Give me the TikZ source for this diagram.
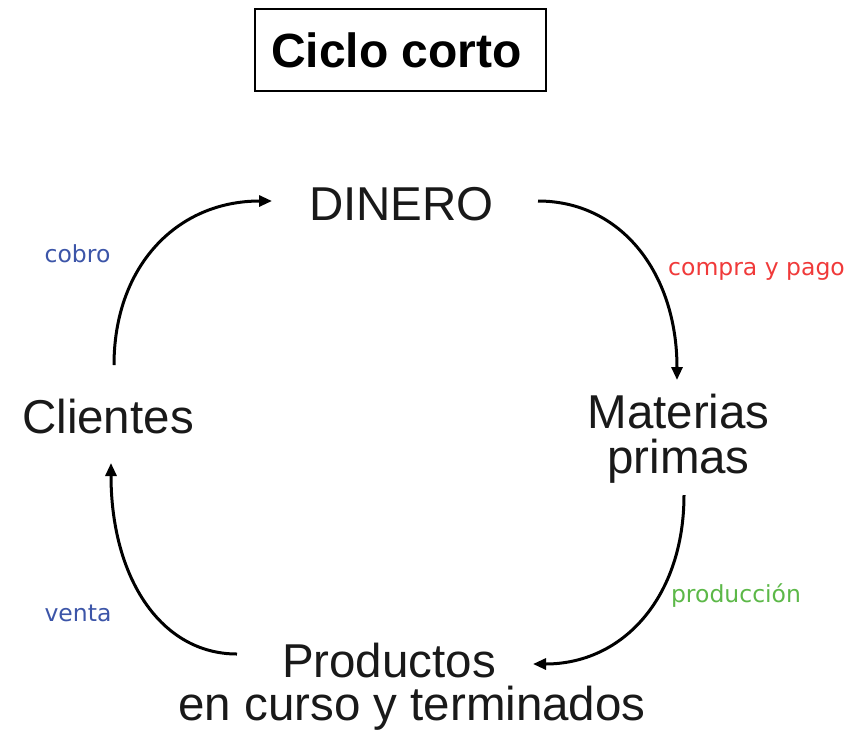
\documentclass[tikz,border=0pt]{standalone}
\usepackage{fontspec}
\setmainfont{Liberation Sans}
\newfontfamily\lblfont{DejaVu Sans}
\usetikzlibrary{arrows.meta}
\definecolor{lblblue}{RGB}{60,85,168}
\definecolor{lblred}{RGB}{240,58,58}
\definecolor{lblgreen}{RGB}{92,184,72}
\tikzset{
  bigtext/.style={inner sep=0pt, outer sep=0pt, text=black!90, font=\fontsize{47.5}{45}\selectfont, align=center},
  lbl/.style={inner sep=0pt, outer sep=0pt, font=\lblfont\fontsize{23.5}{26}\selectfont, anchor=base},
  flow/.style={line width=3pt, -{Triangle[length=13pt,width=11pt]}},
  titlebox/.style={draw, line width=2.2pt, minimum width=291pt, minimum height=82pt, inner sep=0pt}
}
\begin{document}
\begin{tikzpicture}[x=1pt,y=-1pt]
\useasboundingbox (0,0) rectangle (859,732);
\node[titlebox] (title) at (400.5,50) {};
\node[inner sep=0pt, anchor=base, font=\bfseries\fontsize{48}{50}\selectfont] (titletext) at (396.5,67) {Ciclo corto};

\node[bigtext, anchor=base] (din) at (401.5,220) {DINERO};
\node[bigtext, anchor=base] (cli) at (108,433) {Clientes};
\node[bigtext, anchor=base] (mat) at (678.5,473) {Materias\\primas};
\node[bigtext, anchor=base, font=\fontsize{47.5}{43}\selectfont] (prod) at (412,720) {Productos\kern46pt\\en curso y terminados};

\node[lbl, text=lblblue] (lcobro) at (77.5,262) {cobro};
\node[lbl, text=lblred] (lcompra) at (756.5,275) {compra y pago};
\node[lbl, text=lblgreen] (lprod) at (736,602) {producción};
\node[lbl, text=lblblue] (lventa) at (78,621) {venta};

\coordinate (a1s) at (114,365);
\coordinate (a1e) at (272,201);
\coordinate (a2s) at (538,201);
\coordinate (a2e) at (677,380);
\coordinate (a3s) at (684,495);
\coordinate (a3e) at (533,664);
\coordinate (a4s) at (237,654);
\coordinate (a4e) at (111,463);

\draw[flow] (a1s) .. controls (114,266) and (177,201) .. (a1e);
\draw[flow] (a2s) .. controls (621,201) and (677,273) .. (a2e);
\draw[flow] (a3s) .. controls (684,596) and (624,664) .. (a3e);
\draw[flow] (a4s) .. controls (161,654) and (111,578) .. (a4e);
\end{tikzpicture}
\end{document}
